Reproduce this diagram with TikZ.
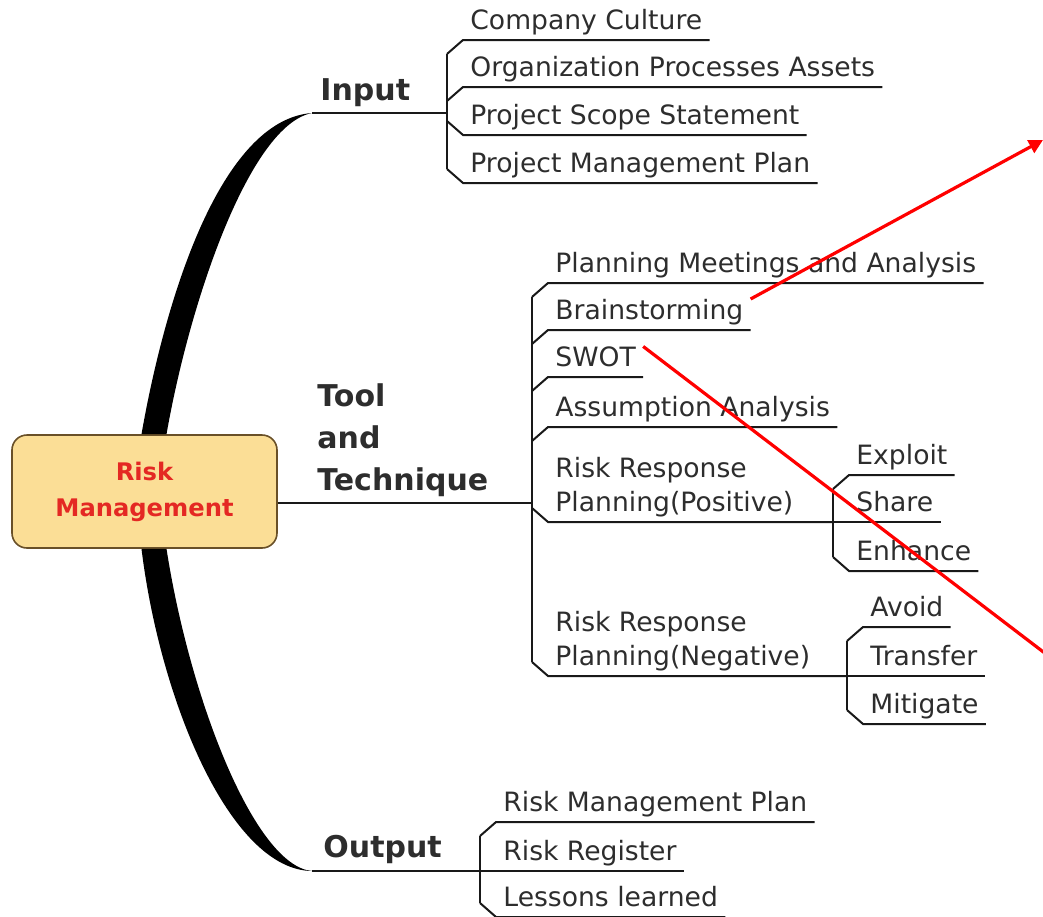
\documentclass[tikz,border=0pt]{standalone}
\usepackage{fontspec}
\setmainfont{DejaVu Sans}
\usetikzlibrary{arrows.meta, calc}

\begin{document}
\begin{tikzpicture}[
        % one unit = one pixel of the 1043x916 sheet, y grows downwards
        x=0.5pt, y=-0.5pt,
        font=\fontsize{13.3}{17}\selectfont
    ]
        % Define custom colors
        \definecolor{riskfill}{RGB}{251,222,150}
        \definecolor{riskborder}{RGB}{105,80,40}
        \definecolor{riskred}{RGB}{228,40,35}
        \definecolor{linkgray}{RGB}{25,25,25}
        \definecolor{textgray}{RGB}{45,45,45}

        % Define node styles
        \tikzstyle{root}=[
            draw=riskborder,
            line width=0.8pt,
            fill=riskfill,
            rounded corners=7.5pt,
            minimum width=132.5pt,
            minimum height=56.5pt,
            align=center,
            text=riskred,
            font=\fontsize{12.1}{18}\selectfont\bfseries
        ]
        \tikzstyle{branch}=[anchor=base west, inner sep=0pt, text=textgray, font=\fontsize{15}{21}\selectfont\bfseries]
        \tikzstyle{leaf}=[anchor=south west, inner ysep=0pt, inner xsep=3.5pt, text depth=5pt, text=textgray]
        \tikzstyle{link}=[linkgray, line width=1pt]
        \tikzstyle{trunk}=[fill=black]
        \tikzstyle{pointer}=[red, line width=1.6pt]

        \useasboundingbox (0,0) rectangle (1043,916);

        % --- Root ---
        \node[root] (risk) at (144.5,491.5) {Risk\\Management};

        % --- Junction points ---
        \coordinate (inbend) at (312,113);
        \coordinate (injoin) at (447,113);
        \coordinate (tooljoin) at (532,503);
        \coordinate (outbend) at (312,871);
        \coordinate (outjoin) at (480,871);
        \coordinate (posjoin) at (833,522);
        \coordinate (negjoin) at (847,676);

        % --- Thick trunks ---
        \fill[trunk] ([xshift=-1.5pt]risk.north) .. controls (165,300) and (220,120) .. (inbend)
            .. controls (250,125) and (190,300) .. ([xshift=11pt]risk.north) -- cycle;
        \fill[trunk] ([xshift=-1.5pt]risk.south) .. controls (160,700) and (230,870) .. (outbend)
            .. controls (255,866) and (190,700) .. ([xshift=11pt]risk.south) -- cycle;

        % --- Branch labels ---
        \node[branch] (input) at (320,100) {Input};
        \node[branch] (tool) at (317,490) {\begin{tabular}[b]{@{}l@{}}Tool\\and\\Technique\end{tabular}};
        \node[branch] (output) at (323,857) {Output};

        % --- Input items ---
        \node[leaf] (cult) at (463,40) {Company Culture};
        \node[leaf] (opa) at (463,87) {Organization Processes Assets};
        \node[leaf] (pss) at (463,135) {Project Scope Statement};
        \node[leaf] (pmp) at (463,183) {Project Management Plan};

        % --- Tool and Technique items ---
        \node[leaf] (pma) at (548,283) {Planning Meetings and Analysis};
        \node[leaf] (brain) at (548,330) {Brainstorming};
        \node[leaf] (swot) at (548,377) {SWOT};
        \node[leaf] (assum) at (548,427) {Assumption Analysis};
        \node[leaf] (rrpos) at (548,522) {\begin{tabular}[b]{@{}l@{}}Risk Response\\Planning(Positive)\end{tabular}};
        \node[leaf] (rrneg) at (548,676) {\begin{tabular}[b]{@{}l@{}}Risk Response\\Planning(Negative)\end{tabular}};

        % --- Positive / Negative responses ---
        \node[leaf] (exploit) at (849,475) {Exploit};
        \node[leaf] (share) at (849,522) {Share};
        \node[leaf] (enhance) at (849,571) {Enhance};
        \node[leaf] (avoid) at (863,627) {Avoid};
        \node[leaf] (transfer) at (863,676) {Transfer};
        \node[leaf] (mitigate) at (863,724) {Mitigate};

        % --- Output items ---
        \node[leaf] (rmp) at (496,822) {Risk Management Plan};
        \node[leaf] (reg) at (496,871) {Risk Register};
        \node[leaf] (lessons) at (496,917) {Lessons learned};

        % --- Input connections ---
        \draw[link] (inbend) -- (injoin);
        \draw[link] ($(cult.south west)+(-16,14)$) -- ($(pmp.south west)+(-16,-14)$);
        \draw[link] (cult.south east) -- (cult.south west) -- +(-16,14);
        \draw[link] (opa.south east) -- (opa.south west) -- +(-16,14);
        \draw[link] (pss.south east) -- (pss.south west) -- +(-16,-14);
        \draw[link] (pmp.south east) -- (pmp.south west) -- +(-16,-14);

        % --- Tool and Technique connections ---
        \draw[link] (risk.east |- tooljoin) -- (tooljoin);
        \draw[link] ($(pma.south west)+(-16,14)$) -- ($(rrneg.south west)+(-16,-14)$);
        \draw[link] (pma.south east) -- (pma.south west) -- +(-16,14);
        \draw[link] (brain.south east) -- (brain.south west) -- +(-16,14);
        \draw[link] (swot.south east) -- (swot.south west) -- +(-16,14);
        \draw[link] (assum.south east) -- (assum.south west) -- +(-16,14);
        \draw[link] (posjoin) -- (rrpos.south west) -- +(-16,-14);
        \draw[link] (negjoin) -- (rrneg.south west) -- +(-16,-14);

        % --- Positive responses ---
        \draw[link] ($(exploit.south west)+(-16,14)$) -- ($(enhance.south west)+(-16,-14)$);
        \draw[link] (exploit.south east) -- (exploit.south west) -- +(-16,14);
        \draw[link] (posjoin) -- (share.south east);
        \draw[link] (enhance.south east) -- (enhance.south west) -- +(-16,-14);

        % --- Negative responses ---
        \draw[link] ($(avoid.south west)+(-16,14)$) -- ($(mitigate.south west)+(-16,-14)$);
        \draw[link] (avoid.south east) -- (avoid.south west) -- +(-16,14);
        \draw[link] (negjoin) -- (transfer.south east);
        \draw[link] (mitigate.south east) -- (mitigate.south west) -- +(-16,-14);

        % --- Output connections ---
        \draw[link] (outbend) -- (outjoin);
        \draw[link] ($(rmp.south west)+(-16,14)$) -- ($(lessons.south west)+(-16,-14)$);
        \draw[link] (rmp.south east) -- (rmp.south west) -- +(-16,14);
        \draw[link] (outjoin) -- (reg.south east);
        \draw[link] (lessons.south east) -- (lessons.south west) -- +(-16,-14);

        % --- Red pointers ---
        \coordinate (brainend) at (1043,140);
        \coordinate (swotend) at (1046,654);
        \draw[pointer, -{Triangle[length=7pt,width=7pt]}] (brain.north east) -- (brainend);
        \draw[pointer] (swot.north east) -- (swotend);

    \end{tikzpicture}
\end{document}
